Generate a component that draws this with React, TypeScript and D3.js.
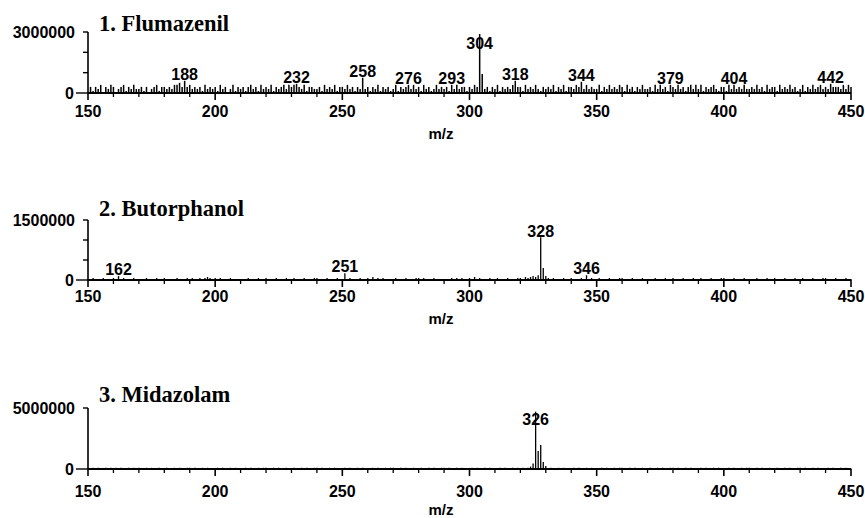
import * as d3 from 'd3';

// m/z axis shared by all three spectra
const MZ_MIN = 150;
const MZ_MAX = 450;
const xMajor = [150, 200, 250, 300, 350, 400, 450];
const xMinor = d3.range(160, 450, 10).filter(v => v % 50 !== 0);

const titles = ['1. Flumazenil', '2. Butorphanol', '3. Midazolam'];
const yMax = [3000000, 1500000, 5000000];
const yMinor = [[1000000, 2000000], [500000, 1000000], []];

// baseline noise, one digit per integer m/z from 150 to 450 (grouped by ten)
const flumNoise =
  '0313240324 3023413242 2313023413 3232445353 4232314232 3142302413 2313423142 3241323424 ' +
  '3443241332 2314232413 3242313232 3132413231 2413234242 3142312423 2314242331 3242342313 ' +
  '2413232423 3142324213 2324132413 3243324232 2413242324 3142313242 2314242313 3242313424 ' +
  '2413234213 3142323242 2324231423 3142324231 2413242342 3243332424 3';
const butoNoise =
  '1021012101 2110210121 1012101210 2101121012 1210212321 2121012101 1012101210 2101210121 ' +
  '1210121012 2101210121 1212101210 2131212101 1210121012 2121012101 1012121210 2131210121 ' +
  '1210121012 2132343556 4212101210 2101213121 1210121012 2101210121 1012101210 2101210121 ' +
  '1210121012 2101210121 1012101210 2101210121 1210121012 2101210121 1';
const midaNoise =
  '1121211212 1212112121 2112121121 1211212112 2121121211 1212112121 1121211212 2112121121 ' +
  '1211212112 2121121211 1212112121 1121211212 2112121121 1211212112 2121121211 1212112121 ' +
  '1121211212 1212123443 2121121211 1212112121 1121211212 2112121121 1211212112 2121121211 ' +
  '1212112121 1121211212 2112121121 1211212112 2121121211 1212112121 1';
const noiseUnit = [100000, 25000, 50000];

// labelled peaks [m/z, intensity]
const flumPeaks: [number, number][] = [
  [188, 600000], [232, 450000], [258, 750000], [276, 400000], [293, 400000], [304, 2900000],
  [318, 600000], [344, 550000], [379, 400000], [404, 400000], [442, 450000],
];
const butoPeaks: [number, number][] = [[162, 100000], [251, 170000], [328, 1070000], [346, 120000]];
const midaPeaks: [number, number][] = [[326, 4700000]];

// unlabelled isotope / fragment lines
const flumExtra: [number, number][] = [[303, 300000], [305, 930000]];
const butoExtra: [number, number][] = [[327, 120000], [329, 300000]];
const midaExtra: [number, number][] = [
  [324, 200000], [325, 450000], [327, 1480000], [328, 1970000], [329, 570000], [330, 250000],
];

const noises = [flumNoise, butoNoise, midaNoise];
const peaks = [flumPeaks, butoPeaks, midaPeaks];
const extras = [flumExtra, butoExtra, midaExtra];

// panel geometry: top of y axis, zero line, tick label / m/z / title baselines
const panels = [
  { top: 32, zero: 93, tickY: 117, mzY: 139, titleY: 31, lw: 1.5 },
  { top: 220, zero: 280, tickY: 302, mzY: 324, titleY: 216, lw: 1.3 },
  { top: 408, zero: 469, tickY: 497, mzY: 515, titleY: 402, lw: 1.3 },
];

const SANS = '"Liberation Sans", Arial, sans-serif';
const SERIF = '"Liberation Serif", "Times New Roman", serif';

const x = d3.scaleLinear().domain([MZ_MIN, MZ_MAX]).range([88, 851]);

function Spectrum({ i }: { i: number }) {
  const p = panels[i];
  const y = d3.scaleLinear().domain([0, yMax[i]]).range([p.zero, p.top]);
  const digits = noises[i].replace(/ /g, '').split('').map(Number);
  const lineMap = new Map<number, number>();
  digits.forEach((d, k) => lineMap.set(MZ_MIN + k, d * noiseUnit[i]));
  extras[i].forEach(([m, v]) => lineMap.set(m, v));
  peaks[i].forEach(([m, v]) => lineMap.set(m, v));
  const lines = Array.from(lineMap.entries()).filter(([, v]) => v > 0);

  const bold = { fontFamily: SANS, fontWeight: 'bold' as const, fontSize: 16 };

  return (
    <g>
      <text x={99} y={p.titleY} fontFamily={SERIF} fontWeight="bold" fontSize={22.5}>
        {titles[i]}
      </text>
      {/* spectrum lines */}
      {lines.map(([m, v]) => (
        <line key={m} x1={x(m)} x2={x(m)} y1={p.zero} y2={y(v)} stroke="#000" strokeWidth={p.lw} />
      ))}
      {/* y axis */}
      <line x1={88} x2={88} y1={p.top} y2={p.zero} stroke="#000" strokeWidth={1.6} />
      <line x1={83} x2={88} y1={p.top} y2={p.top} stroke="#000" strokeWidth={1.4} />
      {yMinor[i].map(v => (
        <line key={v} x1={83} x2={88} y1={y(v)} y2={y(v)} stroke="#000" strokeWidth={1.4} />
      ))}
      <line x1={76} x2={88} y1={p.zero} y2={p.zero} stroke="#000" strokeWidth={1.4} />
      <text x={75} y={p.top} dy="0.36em" textAnchor="end" {...bold}>
        {yMax[i]}
      </text>
      <text x={74} y={p.zero} dy="0.36em" textAnchor="end" {...bold}>
        0
      </text>
      {/* x axis */}
      <line x1={x(MZ_MIN)} x2={x(MZ_MAX)} y1={p.zero} y2={p.zero} stroke="#000" strokeWidth={1.8} />
      {xMajor.map(v => (
        <g key={v}>
          <line x1={x(v)} x2={x(v)} y1={p.zero} y2={p.zero + 7} stroke="#000" strokeWidth={1.6} />
          <text x={x(v)} y={p.tickY} textAnchor="middle" {...bold}>
            {v}
          </text>
        </g>
      ))}
      {xMinor.map(v => (
        <line key={v} x1={x(v)} x2={x(v)} y1={p.zero} y2={p.zero + 4} stroke="#000" strokeWidth={1.3} />
      ))}
      <text x={441} y={p.mzY} textAnchor="middle" fontFamily={SANS} fontWeight="bold" fontSize={15}>
        m/z
      </text>
      {/* peak labels */}
      {peaks[i].map(([m, v]) => (
        <text key={m} x={x(m)} y={Math.max(y(v) - 1, p.top + 17)} textAnchor="middle" {...bold}>
          {m}
        </text>
      ))}
    </g>
  );
}

export default function App() {
  return (
    <svg width={865} height={518} style={{ position: 'absolute', left: 0, top: 0, background: '#fff' }}>
      <rect width={865} height={518} fill="#fff" />
      {[0, 1, 2].map(i => (
        <Spectrum key={i} i={i} />
      ))}
    </svg>
  );
}
